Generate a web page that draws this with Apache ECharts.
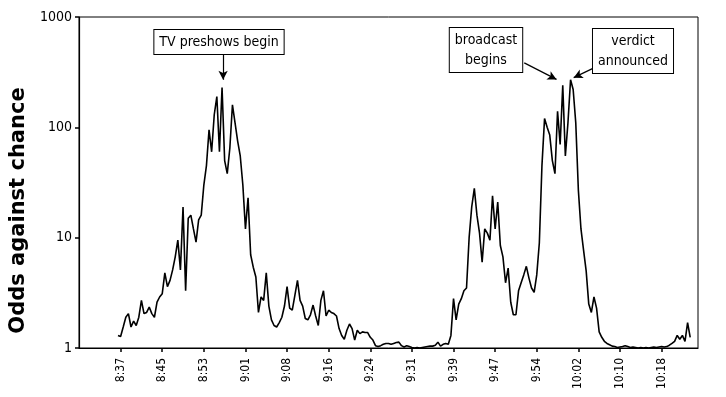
<!DOCTYPE html>
<html>
<head>
<meta charset="utf-8">
<script src="https://cdn.jsdelivr.net/npm/echarts@6/dist/echarts.min.js"></script>
<style>
  html, body { margin: 0; padding: 0; background: #fff; }
  #chart { width: 726px; height: 397px; }
</style>
</head>
<body>
<div id="chart"></div>
<script>
// 横轴刻度标签（每 16 个采样点一格）
const timeLabels = ['8:37', '8:45', '8:53', '9:01', '9:08', '9:16', '9:24',
  '9:31', '9:39', '9:47', '9:54', '10:02', '10:10', '10:18'];
const samplesPerTick = 16;
const firstSample = 15;

// 读图得到的赔率（对数轴）
const odds = [
  1.3, 1.27, 1.55, 1.9, 2.05, 1.55, 1.75, 1.6, 1.9, 2.7,
  2.05, 2.1, 2.35, 2.05, 1.9, 2.6, 2.9, 3.1, 4.8, 3.6,
  4.1, 5.1, 6.7, 9.5, 5.1, 19, 3.3, 15, 16, 12,
  9.1, 14.5, 16, 30, 45, 95, 60, 130, 190, 60,
  230, 50, 38, 65, 160, 110, 75, 55, 30, 12,
  23, 7, 5.4, 4.4, 2.1, 2.9, 2.7, 4.8, 2.4, 1.8,
  1.6, 1.55, 1.7, 1.9, 2.4, 3.6, 2.3, 2.2, 3.0, 4.1,
  2.7, 2.4, 1.85, 1.8, 2.0, 2.45, 1.95, 1.6, 2.7, 3.3,
  1.95, 2.2, 2.1, 2.05, 1.95, 1.5, 1.3, 1.2, 1.45, 1.65,
  1.5, 1.18, 1.45, 1.35, 1.4, 1.38, 1.38, 1.25, 1.18, 1.05,
  1.03, 1.05, 1.08, 1.1, 1.1, 1.08, 1.1, 1.12, 1.13, 1.05,
  1.02, 1.05, 1.03, 1.01, 1.0, 1.01, 1.0, 1.01, 1.02, 1.03,
  1.04, 1.04, 1.06, 1.13, 1.04, 1.08, 1.1, 1.08, 1.3, 2.8,
  1.8, 2.5, 2.8, 3.3, 3.5, 10, 19, 28, 16, 11,
  6, 12, 11, 9.5, 24, 12, 21, 8.5, 6.7, 3.9,
  5.3, 2.6, 2.0, 2.0, 3.3, 3.9, 4.6, 5.5, 4.3, 3.5,
  3.2, 4.6, 9, 45, 120, 100, 85, 50, 38, 140,
  70, 240, 55, 110, 270, 220, 110, 27, 12, 7.7,
  5, 2.5, 2.1, 2.9, 2.3, 1.4, 1.25, 1.15, 1.1, 1.07,
  1.04, 1.03, 1.01, 1.02, 1.03, 1.05, 1.03, 1.01, 1.02, 1.01,
  1.0, 1.01, 1.0, 1.01, 1.0, 1.01, 1.02, 1.01, 1.02, 1.03,
  1.02, 1.03, 1.06, 1.1, 1.15, 1.3, 1.2, 1.3, 1.15, 1.7,
  1.25
];

// 注释文字
const notes = [
  { text: 'TV preshows begin', x: 219, y: 42 },
  { text: 'broadcast\nbegins', x: 486, y: 50 },
  { text: 'verdict\nannounced', x: 633, y: 51 }
];

// 箭头（数据坐标）
const arrows = [
  [[55.4, 520], [55.4, 270]],
  [[171.2, 384], [183.6, 272]],
  [[198.8, 353], [190.2, 282]]
];

const font = '"DejaVu Sans Condensed", "Liberation Sans", Arial, sans-serif';

const chart = echarts.init(document.getElementById('chart'));

const option = {
  animation: false,
  grid: {
    left: 79,
    top: 17,
    right: 28,
    bottom: 49,
    outerBoundsMode: 'none',
    containLabel: false,
    show: true,
    borderColor: '#000',
    borderWidth: 1
  },
  xAxis: {
    type: 'value',
    min: 0,
    max: 238,
    interval: samplesPerTick,
    splitLine: { show: false },
    axisLine: { lineStyle: { color: '#000', width: 1.2 } },
    axisTick: { show: true, length: 4, lineStyle: { color: '#000', width: 1.5 } },
    axisLabel: {
      rotate: 90,
      margin: 10,
      color: '#000',
      fontFamily: font,
      fontSize: 12,
      showMinLabel: false,
      showMaxLabel: false,
      formatter: (v) => timeLabels[v / samplesPerTick - 1] || ''
    }
  },
  yAxis: {
    type: 'log',
    logBase: 10,
    min: 1,
    max: 1000,
    name: 'Odds against chance',
    nameLocation: 'middle',
    nameGap: 41,
    nameRotate: 90,
    nameTextStyle: {
      color: '#000',
      fontFamily: '"DejaVu Sans", "Liberation Sans", Arial, sans-serif',
      fontWeight: 'bold',
      fontSize: 21,
      padding: [0, 56, 0, 0]
    },
    splitLine: { show: false },
    axisLine: { show: true, lineStyle: { color: '#000', width: 1.2 } },
    axisTick: { show: true, length: 4, lineStyle: { color: '#000', width: 1.5 } },
    axisLabel: {
      color: '#000',
      fontFamily: font,
      fontSize: 14,
      margin: 7,
      formatter: (v) => String(v)
    }
  },
  series: [
    {
      type: 'line',
      data: odds.map((v, i) => [firstSample + i, v]),
      showSymbol: false,
      lineStyle: { color: '#000', width: 1.6 },
      silent: true,
      markLine: {
        silent: true,
        symbol: ['none', 'arrow'],
        symbolSize: [7, 9],
        label: { show: false },
        lineStyle: { color: '#000', width: 1.2, type: 'solid' },
        data: arrows.map((a) => [{ coord: a[0] }, { coord: a[1] }])
      }
    }
  ],
  graphic: notes.map((n) => ({
    type: 'text',
    x: n.x,
    y: n.y,
    z: 100,
    style: {
      text: n.text,
      fill: '#000',
      font: '14px ' + font,
      align: 'center',
      verticalAlign: 'middle',
      lineHeight: 20,
      backgroundColor: '#fff',
      borderColor: '#000',
      borderWidth: 1,
      padding: [2, 5]
    }
  }))
};

chart.setOption(option);
</script>
</body>
</html>
